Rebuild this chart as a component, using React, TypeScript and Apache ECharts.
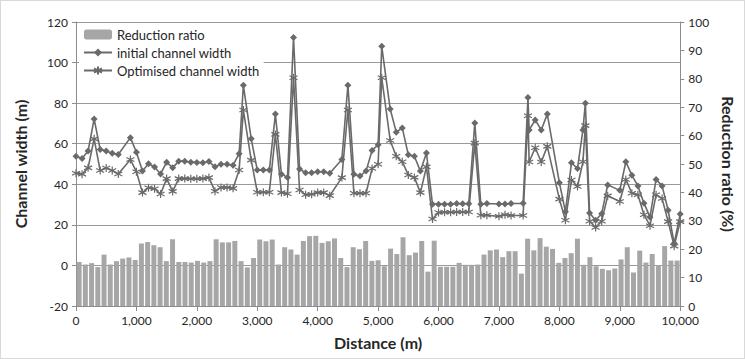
import React, { useEffect, useRef } from "react";
import * as echarts from "echarts";

const distances = [0, 100, 200, 300, 400, 500, 600, 700, 900, 1000, 1100, 1200, 1300, 1400, 1500, 1600, 1700, 1800, 1900,
  2000, 2100, 2200, 2300, 2400, 2500, 2600, 2700, 2770, 2900, 3000, 3100, 3200, 3300, 3400, 3500, 3600, 3700, 3800, 3900,
  4000, 4100, 4200, 4400, 4500, 4600, 4700, 4800, 4900, 5000, 5060, 5200, 5300, 5400, 5500, 5600, 5700, 5800, 5900,
  6000, 6100, 6200, 6300, 6400, 6500, 6600, 6700, 6800, 7000, 7100, 7200, 7400, 7480, 7500, 7600, 7700, 7800,
  8000, 8100, 8200, 8300, 8390, 8430, 8500, 8600, 8700, 8800, 9000, 9100, 9200, 9300, 9400, 9500, 9600, 9700, 9800, 9900, 10000];

const initialWidth = [53.8, 52.7, 56.4, 72.2, 57.2, 56.4, 55.3, 54.7, 63.0, 55.8, 46.5, 50.1, 48.5, 45.1, 50.9, 48.1, 51.4, 51.4, 50.9,
  50.8, 50.6, 51.2, 48.6, 49.9, 49.9, 49.4, 55.1, 88.8, 62.4, 47.0, 47.0, 47.0, 74.6, 45.0, 43.4, 112.4, 47.5, 45.7, 45.7,
  46.2, 46.2, 45.4, 52.2, 88.8, 45.0, 44.1, 46.5, 56.7, 59.5, 108.0, 77.1, 65.7, 67.8, 54.5, 53.8, 46.5, 55.4, 30.2,
  30.2, 30.2, 30.2, 30.5, 30.4, 30.4, 70.2, 30.2, 30.5, 30.3, 30.3, 30.5, 30.6, 82.8, 66.8, 71.7, 66.8, 74.6,
  40.8, 26.5, 50.6, 47.8, 66.8, 80.0, 25.9, 22.3, 25.5, 39.7, 37.0, 51.1, 44.4, 39.2, 30.7, 23.8, 42.4, 39.2, 27.2, 10.9, 25.4];

const optimisedWidth = [45.4, 45.0, 48.1, 62.4, 46.8, 48.0, 46.8, 45.1, 52.2, 46.2, 35.9, 38.3, 37.8, 35.2, 42.8, 36.5, 42.8, 42.8, 42.7,
  42.7, 42.8, 43.3, 36.6, 38.4, 38.4, 38.0, 47.0, 76.6, 51.9, 36.1, 36.1, 36.1, 64.6, 35.9, 35.3, 92.5, 37.2, 34.8, 35.1,
  35.9, 35.9, 34.4, 43.3, 76.6, 35.6, 35.6, 35.6, 47.8, 49.9, 92.5, 61.6, 53.8, 51.1, 44.6, 43.4, 35.9, 48.6, 22.9,
  26.1, 26.2, 26.2, 26.3, 26.3, 26.3, 60.3, 24.7, 24.7, 24.2, 25.0, 24.6, 24.6, 73.8, 51.0, 58.0, 51.0, 58.7,
  32.7, 22.3, 42.1, 38.9, 51.1, 68.9, 21.8, 18.7, 21.8, 34.3, 31.5, 42.4, 35.6, 34.8, 25.0, 19.6, 34.8, 33.0, 21.6, 9.5, 21.6];

const reductionRatio = [15.5, 14.6, 15.1, 13.7, 18.1, 14.6, 15.8, 16.7, 17.1, 16.2, 22.0, 22.5, 21.4, 20.7, 15.8, 23.5, 15.5, 15.5, 15.3,
  15.9, 15.3, 15.8, 23.5, 22.4, 22.4, 22.9, 15.8, 13.6, 16.9,
  23.4, 22.8, 23.4, 14.6, 20.7, 19.9, 18.1, 22.9, 24.6, 24.7,
  22.2, 22.8, 23.8, 16.9, 13.7, 20.7, 20.0, 22.9, 15.9, 16.1,
  14.0, 20.2, 18.3, 24.2, 17.9, 18.8, 22.9, 12.1, 23.0,
  13.8, 13.8, 13.8, 15.2, 14.5, 14.5, 14.6, 18.1, 19.6,
  19.9, 17.2, 19.3, 19.3, 11.4, 23.7, 19.6, 23.9, 20.9,
  20.1, 15.2, 16.9, 18.6, 23.7, 14.5, 17.2, 14.0, 13.1, 12.6,
  13.2, 16.4, 20.7, 11.8, 19.5, 15.3, 18.3, 14.4, 21.1, 16.0, 16.0];

const seriesNames = ["Reduction ratio", "initial channel width", "Optimised channel width"];
const axisNames = { x: "Distance (m)", left: "Channel width (m)", right: "Reduction ratio (%)" };

const FONT = "Lato, 'Liberation Sans', sans-serif";
const TEXT = "#262626";
const AXIS = "#8c8c8c";
const LINE = "#6a6a6a";
const STAR = "path://M5,0L5,10M0.67,2.5L9.33,7.5M0.67,7.5L9.33,2.5";

export default function App() {
  const ref = useRef<HTMLDivElement>(null);
  useEffect(() => {
    document.body.style.margin = "0";
    const chart = echarts.init(ref.current!, null, { renderer: "svg" });
    chart.setOption({
      animation: false,
      textStyle: { fontFamily: FONT },
      grid: { left: 75, right: 55, top: 21, bottom: 52 },
      legend: {
        orient: "vertical",
        left: 78,
        top: 25,
        itemWidth: 28,
        itemHeight: 10,
        itemGap: 5,
        backgroundColor: "#ffffff",
        padding: [2, 4, 2, 4],
        textStyle: { fontSize: 13, color: TEXT, fontFamily: FONT },
        data: seriesNames,
      },
      xAxis: [
        {
          type: "value",
          min: 0,
          max: 10000,
          interval: 1000,
          axisLine: { show: true, onZero: false, lineStyle: { color: AXIS } },
          axisTick: { show: true, length: 5, lineStyle: { color: AXIS } },
          axisLabel: {
            fontSize: 12,
            color: TEXT,
            margin: 8,
            formatter: (v: number) => v.toLocaleString("en-US"),
          },
          splitLine: { show: false },
          name: axisNames.x,
          nameLocation: "middle",
          nameGap: 28,
          nameTextStyle: { fontSize: 16, fontWeight: "bold", color: TEXT },
        },
        {
          type: "category",
          data: distances.map(String),
          show: false,
          boundaryGap: true,
        },
      ],
      yAxis: [
        {
          type: "value",
          min: -20,
          max: 120,
          interval: 20,
          axisLine: { show: true, lineStyle: { color: AXIS } },
          axisTick: { show: true, length: 4, lineStyle: { color: AXIS } },
          axisLabel: { fontSize: 12, color: TEXT, margin: 8 },
          splitLine: { show: true, lineStyle: { color: "#9a9a9a", width: 1 } },
          name: axisNames.left,
          nameLocation: "middle",
          nameGap: 48,
          nameTextStyle: { fontSize: 16, fontWeight: "bold", color: TEXT },
        },
        {
          type: "value",
          position: "right",
          min: 0,
          max: 100,
          interval: 10,
          axisLine: { show: true, lineStyle: { color: AXIS } },
          axisTick: { show: true, length: 4, lineStyle: { color: AXIS } },
          axisLabel: { fontSize: 12, color: TEXT, margin: 8 },
          splitLine: { show: false },
          name: axisNames.right,
          nameLocation: "middle",
          nameRotate: -90,
          nameGap: 34,
          nameTextStyle: { fontSize: 16, fontWeight: "bold", color: TEXT },
        },
      ],
      series: [
        {
          name: seriesNames[0],
          type: "bar",
          xAxisIndex: 1,
          yAxisIndex: 1,
          barCategoryGap: "20%",
          itemStyle: { color: "#a6a6a6" },
          data: reductionRatio,
          z: 1,
        },
        {
          name: seriesNames[1],
          type: "line",
          xAxisIndex: 0,
          yAxisIndex: 0,
          symbol: "diamond",
          symbolSize: 7,
          itemStyle: { color: LINE },
          lineStyle: { color: LINE, width: 1.6 },
          data: distances.map((d, i) => [d, initialWidth[i]]),
          z: 3,
        },
        {
          name: seriesNames[2],
          type: "line",
          xAxisIndex: 0,
          yAxisIndex: 0,
          symbol: STAR,
          symbolSize: 8,
          itemStyle: { color: LINE, borderColor: LINE, borderWidth: 1.2 },
          lineStyle: { color: LINE, width: 1.6 },
          data: distances.map((d, i) => [d, optimisedWidth[i]]),
          z: 4,
        },
      ],
    });
    return () => chart.dispose();
  }, []);
  return (
    <div style={{ width: 745, height: 359, boxSizing: "border-box", border: "1px solid #d9d9d9", background: "#fff" }}>
      <div ref={ref} style={{ width: 743, height: 357 }} />
    </div>
  );
}
